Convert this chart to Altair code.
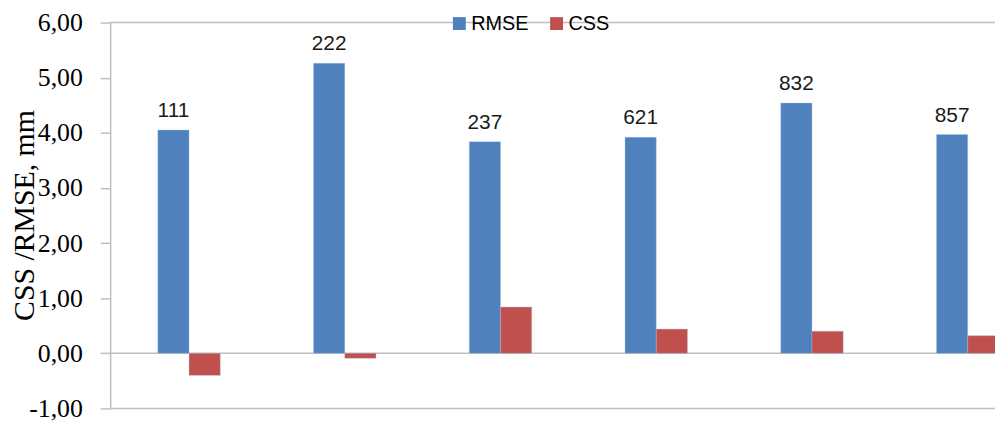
import altair as alt
import pandas as pd

stations = ["111", "222", "237", "621", "832", "857"]
rmse = [4.05, 5.26, 3.84, 3.92, 4.54, 3.97]
css = [-0.40, -0.09, 0.84, 0.44, 0.40, 0.32]
series = ["RMSE", "CSS"]
colors = ["#4F81BD", "#C0504D"]
y_ticks = [-1, 0, 1, 2, 3, 4, 5, 6]
rule_levels = [6, 0, -1]

rows = []
for s, r, c in zip(stations, rmse, css):
    rows.append({"station": s, "series": "RMSE", "value": r})
    rows.append({"station": s, "series": "CSS", "value": c})
df = pd.DataFrame(rows)
df_lab = df[df["series"] == "RMSE"].reset_index(drop=True)
df_rules = pd.DataFrame({"y": rule_levels})

W, H = 892, 389

xs = alt.X("station:N", sort=stations, axis=None,
           scale=alt.Scale(range=[1, 943], paddingInner=0.599, paddingOuter=0.2995))
xo = alt.XOffset("series:N", sort=series,
                 scale=alt.Scale(domain=series, paddingInner=0, paddingOuter=0))
yenc = alt.Y("value:Q",
             scale=alt.Scale(domain=[-1, 6], nice=False, zero=False),
             axis=alt.Axis(values=y_ticks, grid=False,
                           labelExpr="(datum.value < 0 ? '-' : '') + replace(format(abs(datum.value), '.2f'), '.', ',')",
                           labelFont="Liberation Serif", labelFontSize=26,
                           labelColor="#000000", labelPadding=18,
                           tickSize=10, tickColor="#BFBFBF", tickWidth=1.5,
                           domainColor="#BFBFBF", domainWidth=1.5,
                           title="CSS /RMSE, mm", titleFont="Liberation Serif",
                           titleFontSize=30, titleFontWeight="normal",
                           titleColor="#000000", titleAngle=-90,
                           titleX=-86, titleY=194, titleAlign="center",
                           titleBaseline="middle"))

rules = alt.Chart(df_rules).mark_rule(color="#BFBFBF", strokeWidth=1.5).encode(
    y=alt.Y("y:Q", scale=alt.Scale(domain=[-1, 6], nice=False, zero=False))
)

bars = alt.Chart(df).mark_bar(stroke="#A9C1E0", strokeWidth=0.6, strokeOpacity=0.6).encode(
    x=xs, xOffset=xo, y=yenc,
    color=alt.Color("series:N", sort=series,
                    scale=alt.Scale(domain=series, range=colors),
                    legend=alt.Legend(orient="none", legendX=342, legendY=-9,
                                      direction="horizontal", title=None,
                                      symbolType="square", symbolSize=169,
                                      symbolStrokeWidth=0,
                                      labelFont="Liberation Sans", labelFontSize=20,
                                      labelColor="#000000", labelOffset=2,
                                      columnPadding=18, padding=0))
)

labels = alt.Chart(df_lab).mark_text(
    font="Liberation Sans", fontSize=21, color="#1a1a1a", dy=-13, baseline="alphabetic"
).encode(
    x=xs, xOffset=xo, y=alt.Y("value:Q"), text="station:N"
)

chart = alt.layer(rules, bars, labels).properties(
    width=W, height=H,
    autosize=alt.AutoSizeParams(type="none"),
    padding={"left": 103, "top": 13, "right": 0, "bottom": 17},
).configure_view(stroke=None)

chart.save("out.html", embed_options={"renderer": "svg", "actions": False})
